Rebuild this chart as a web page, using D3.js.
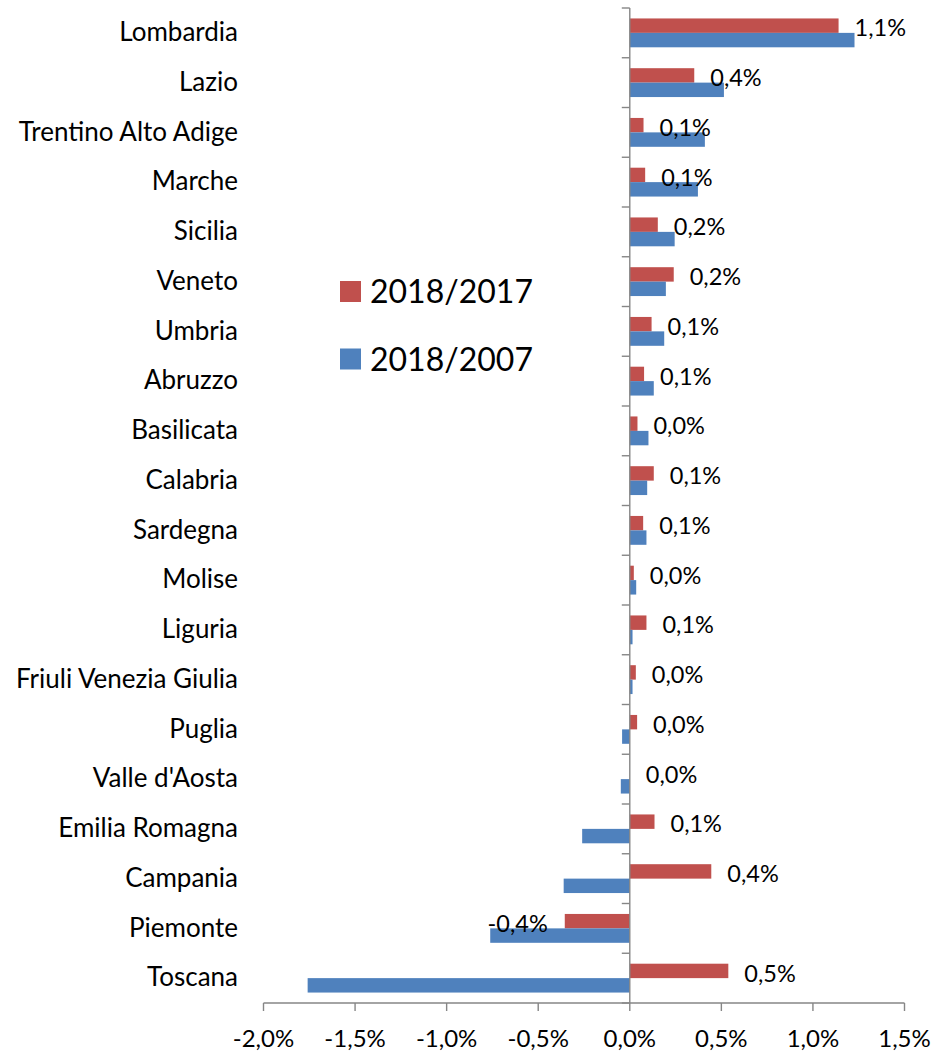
<!DOCTYPE html>
<html>
<head>
<meta charset="utf-8">
<script src="https://cdn.jsdelivr.net/npm/d3@7"></script>
<style>
  body { margin: 0; background: #fff; }
  text { font-family: Lato, "Open Sans", sans-serif; fill: #000; }
</style>
</head>
<body>
<div id="chart"></div>
<script>
// regions, top to bottom
var regions = ["Lombardia", "Lazio", "Trentino Alto Adige", "Marche", "Sicilia",
  "Veneto", "Umbria", "Abruzzo", "Basilicata", "Calabria", "Sardegna", "Molise",
  "Liguria", "Friuli Venezia Giulia", "Puglia", "Valle d'Aosta", "Emilia Romagna",
  "Campania", "Piemonte", "Toscana"];

// percent changes
var v2018_2017 = [1.14, 0.352, 0.075, 0.084, 0.153, 0.24, 0.119, 0.078, 0.042, 0.131,
  0.073, 0.022, 0.091, 0.033, 0.04, 0.0, 0.135, 0.445, -0.355, 0.538];
var v2018_2007 = [1.227, 0.514, 0.41, 0.372, 0.245, 0.197, 0.188, 0.131, 0.102, 0.095,
  0.091, 0.035, 0.015, 0.015, -0.042, -0.049, -0.26, -0.361, -0.762, -1.759];

var seriesNames = ["2018/2017", "2018/2007"];
var seriesColors = ["#C0504D", "#4F81BD"];
var xTicks = [-2, -1.5, -1, -0.5, 0, 0.5, 1, 1.5];

var width = 946, height = 1056;
var plot = {left: 263.5, right: 904.5, top: 8, bottom: 1003};

var pct = function(v) { return v.toFixed(1).replace(".", ",") + "%"; };

var svg = d3.select("#chart").append("svg")
    .attr("width", width)
    .attr("height", height);

// scales
var x = d3.scaleLinear().domain([-2, 1.5]).range([plot.left, plot.right]);
var y = d3.scaleBand().domain(regions).range([plot.top, plot.bottom])
    .paddingInner(0.42).paddingOuter(0.21);
var y1 = d3.scaleBand().domain(seriesNames).range([0, y.bandwidth()]);

var rows = regions.map(function(r, i) {
  return {name: r, vals: [v2018_2017[i], v2018_2007[i]]};
});

// bars
var g = svg.selectAll("g.row").data(rows).enter().append("g")
    .attr("class", "row")
    .attr("transform", function(d) { return "translate(0," + y(d.name) + ")"; });

g.selectAll("rect")
  .data(function(d) { return d.vals.map(function(v, k) { return {v: v, k: k}; }); })
  .enter().append("rect")
    .attr("x", function(d) { return x(Math.min(0, d.v)); })
    .attr("y", function(d) { return y1(seriesNames[d.k]); })
    .attr("width", function(d) { return Math.abs(x(d.v) - x(0)); })
    .attr("height", y1.bandwidth())
    .attr("fill", function(d) { return seriesColors[d.k]; });

// value labels for 2018/2017
svg.selectAll("text.val").data(rows).enter().append("text")
    .attr("class", "val")
    .attr("x", function(d) { return d.vals[0] < 0 ? x(d.vals[0]) - 17 : x(d.vals[0]) + 16; })
    .attr("y", function(d) { return y(d.name) + y.bandwidth() / 2 + 3.5; })
    .attr("text-anchor", function(d) { return d.vals[0] < 0 ? "end" : "start"; })
    .style("font-size", "23.5px")
    .text(function(d) { return pct(d.vals[0]); });

// category labels
var step = y.step();
svg.selectAll("text.cat").data(regions).enter().append("text")
    .attr("class", "cat")
    .attr("x", 238)
    .attr("y", function(d) { return y(d) + y.bandwidth() / 2 + 8.3; })
    .attr("text-anchor", "end")
    .style("font-size", "26px")
    .text(function(d) { return d; });

// vertical axis at zero with category ticks
var axisColor = "#868686";
svg.append("line")
    .attr("x1", x(0)).attr("x2", x(0))
    .attr("y1", plot.top).attr("y2", plot.bottom)
    .attr("stroke", axisColor).attr("stroke-width", 1.4);
svg.selectAll("line.ytick").data(d3.range(regions.length + 1)).enter().append("line")
    .attr("x1", x(0) - 8).attr("x2", x(0))
    .attr("y1", function(i) { return plot.top + i * step; })
    .attr("y2", function(i) { return plot.top + i * step; })
    .attr("stroke", axisColor).attr("stroke-width", 1.4);

// bottom axis
svg.append("line")
    .attr("x1", plot.left).attr("x2", plot.right)
    .attr("y1", plot.bottom).attr("y2", plot.bottom)
    .attr("stroke", axisColor).attr("stroke-width", 1.4);
svg.selectAll("line.xtick").data(xTicks).enter().append("line")
    .attr("x1", x).attr("x2", x)
    .attr("y1", plot.bottom).attr("y2", plot.bottom + 8)
    .attr("stroke", axisColor).attr("stroke-width", 1.4);
svg.selectAll("text.xtick").data(xTicks).enter().append("text")
    .attr("x", x)
    .attr("y", 1047)
    .attr("text-anchor", "middle")
    .style("font-size", "24px")
    .text(pct);

// legend
var legend = svg.selectAll("g.legend").data(seriesNames).enter().append("g")
    .attr("class", "legend")
    .attr("transform", function(d, i) { return "translate(340," + (281 + i * 67.5) + ")"; });
legend.append("rect")
    .attr("width", 21).attr("height", 21)
    .attr("fill", function(d, i) { return seriesColors[i]; });
legend.append("text")
    .attr("x", 30).attr("y", 22)
    .style("font-size", "32px")
    .text(function(d) { return d; });
</script>
</body>
</html>
